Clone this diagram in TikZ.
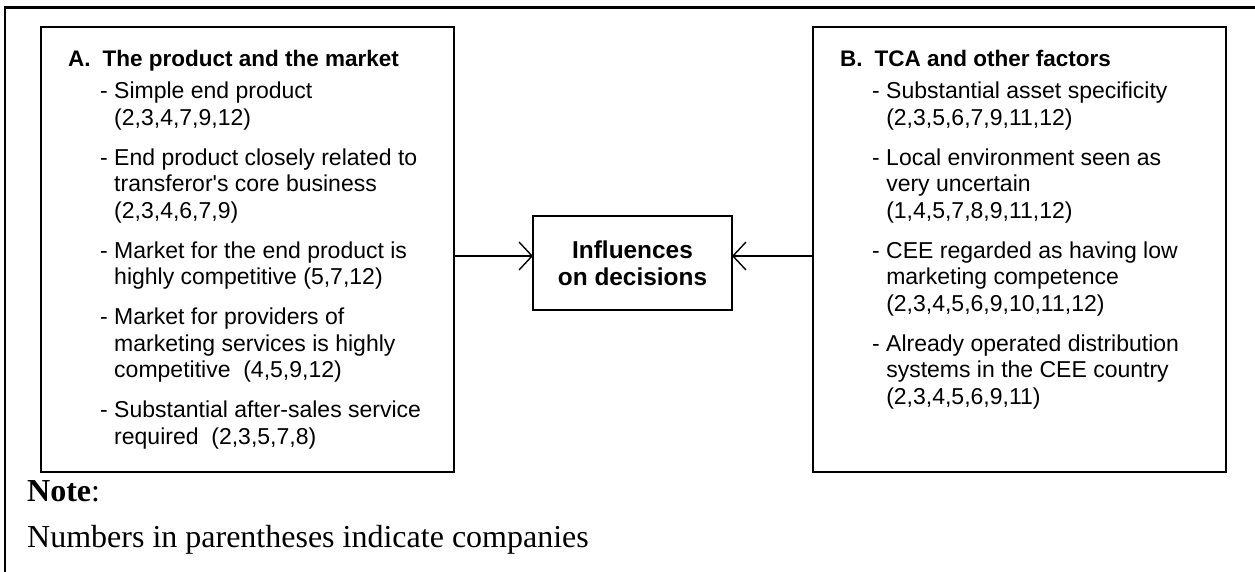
\documentclass[tikz,border=0pt]{standalone}
\usepackage{fontspec}
\setmainfont{Liberation Serif}
\setsansfont{Liberation Sans}[Ligatures=TeXOff]
\usetikzlibrary{arrows.meta}
\newcommand{\Li}{\hspace*{32pt}- }
\newcommand{\Lc}{\hspace*{32pt}\phantom{- }}
\newcommand{\Hd}[1]{{\fontsize{22.5}{26.5}\selectfont\bfseries #1}}
\begin{document}
\begin{tikzpicture}[x=1pt,y=-1pt,
  boxst/.style={draw, line width=2pt, inner sep=0pt, outer sep=0pt, anchor=north west},
  arr/.style={line width=1.4pt, -{Straight Barb[length=13pt,width=28pt,line width=1.4pt]}},
  txt/.style={anchor=base west, inner sep=0pt, font=\sffamily\fontsize{23}{26.5}\selectfont},
  notest/.style={anchor=base west, inner sep=0pt, font=\rmfamily\fontsize{32}{36}\selectfont},
  frame/.style={line width=2.6pt}]
\useasboundingbox (0,0) rectangle (1255,572);
\fill[white] (0,0) rectangle (1255,572);
\draw[frame] (1262,7.5) -- (5,7.5) -- (5,580);

\node[boxst, minimum width=413pt, minimum height=445pt] (boxA) at (41,27) {};
\node[boxst, minimum width=413pt, minimum height=445pt] (boxB) at (813,27) {};
\node[boxst, anchor=center, minimum width=199pt, minimum height=94pt, align=center,
      font=\sffamily\bfseries\fontsize{24.4}{27}\selectfont] (dec) at (632.5,263) {Influences\\on decisions};

\node[txt] (txtA) at (68,67) {\begin{minipage}[t]{380pt}\raggedright
\Hd{A.\hspace{12pt}The product and the market}\\[5.5pt]
\Li Simple end product\\
\Lc (2,3,4,7,9,12)\\[13.5pt]
\Li End product closely related to\\
\Lc transferor's core business\\
\Lc (2,3,4,6,7,9)\\[13.5pt]
\Li Market for the end product is\\
\Lc highly competitive (5,7,12)\\[13.5pt]
\Li Market for providers of\\
\Lc marketing services is highly\\
\Lc competitive\ \ (4,5,9,12)\\[13.5pt]
\Li Substantial after-sales service\\
\Lc required\ \ (2,3,5,7,8)
\end{minipage}};

\node[txt] (txtB) at (840,67) {\begin{minipage}[t]{380pt}\raggedright
\Hd{B.\hspace{12pt}TCA and other factors}\\[5.5pt]
\Li Substantial asset specificity\\
\Lc (2,3,5,6,7,9,11,12)\\[13.5pt]
\Li Local environment seen as\\
\Lc very uncertain\\
\Lc (1,4,5,7,8,9,11,12)\\[13.5pt]
\Li CEE regarded as having low\\
\Lc marketing competence\\
\Lc (2,3,4,5,6,9,10,11,12)\\[13.5pt]
\Li Already operated distribution\\
\Lc systems in the CEE country\\
\Lc (2,3,4,5,6,9,11)
\end{minipage}};

\coordinate (ay) at (0,256);
\draw[arr] (boxA.east |- ay) -- (dec.west |- ay);
\draw[arr] (boxB.west |- ay) -- (dec.east |- ay);

\node[notest] (note) at (27,501) {\textbf{Note}:};
\node[notest] (numbers) at (27,547) {Numbers in parentheses indicate companies};
\end{tikzpicture}
\end{document}
